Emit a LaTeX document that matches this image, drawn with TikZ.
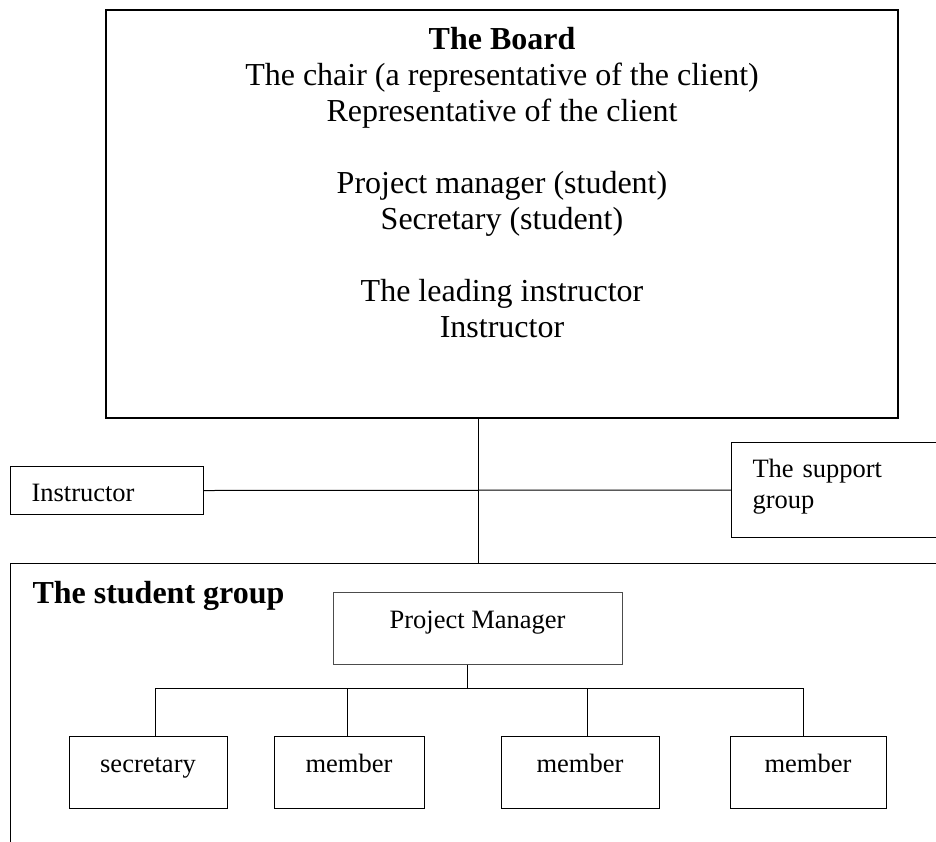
\documentclass[tikz,border=0pt]{standalone}
\usepackage{fontspec}
\setmainfont{Liberation Serif}
\begin{document}
\begin{tikzpicture}[x=1pt, y=-1pt, line width=1pt,
  every node/.style={inner sep=0pt},
  orgbox/.style={draw, minimum height=72pt, text height=10pt, text depth=10pt, font=\fontsize{26.5}{31}\selectfont},
  sidebox/.style={draw, anchor=north west, align=left, inner xsep=21pt, font=\fontsize{26.5}{31}\selectfont}]

\clip (0,0) rectangle (936,841);

% the board
\node[draw, line width=1.3pt, minimum width=792pt, minimum height=408pt] (board) at (502,214) {};
\node[anchor=north, align=center, font=\fontsize{32}{36}\selectfont] (boardtext) at (502,27)
  {\textbf{The Board}\\
   The chair (a representative of the client)\\
   Representative of the client\\[36pt]
   Project manager (student)\\
   Secretary (student)\\[36pt]
   The leading instructor\\
   Instructor};

\node[sidebox, text width=151pt, text height=35pt, text depth=13pt] (instr) at (10,466) {Instructor};
\node[sidebox, text width=200pt, text height=18pt, text depth=43pt, minimum height=95pt] (support) at (731,442) {The support\\group};

% the student group
\node[draw, anchor=north west, minimum width=960pt, minimum height=320pt] (group) at (10,563) {};
\node[anchor=base west, font=\bfseries\fontsize{32}{36}\selectfont] (grouplabel) at (32,603) {The student group};

\node[orgbox, draw=black!70, minimum width=289pt] (pm) at (477.5,628) {Project Manager};
\node[orgbox, minimum width=158pt] (sec) at (148,772) {secretary};
\node[orgbox, minimum width=150pt] (m2) at (349,772) {member};
\node[orgbox, minimum width=158pt] (m3) at (580,772) {member};
\node[orgbox, minimum width=156pt] (m4) at (808,772) {member};

\coordinate (hub) at (478,489);
\coordinate (bus) at (467,688);
\draw (board.south -| hub) -- (group.north -| hub);
\draw (instr.east) -- (support.west);

\draw (pm.south -| bus) -- (bus);
\draw ([xshift=7pt]sec.north) |- ([xshift=-5pt]m4.north |- bus) -- ([xshift=-5pt]m4.north);
\foreach \n/\s in {m2/-2, m3/7}
  \draw ([xshift=\s pt]\n.north) -- ([xshift=\s pt]\n.north |- bus);

\end{tikzpicture}
\end{document}
